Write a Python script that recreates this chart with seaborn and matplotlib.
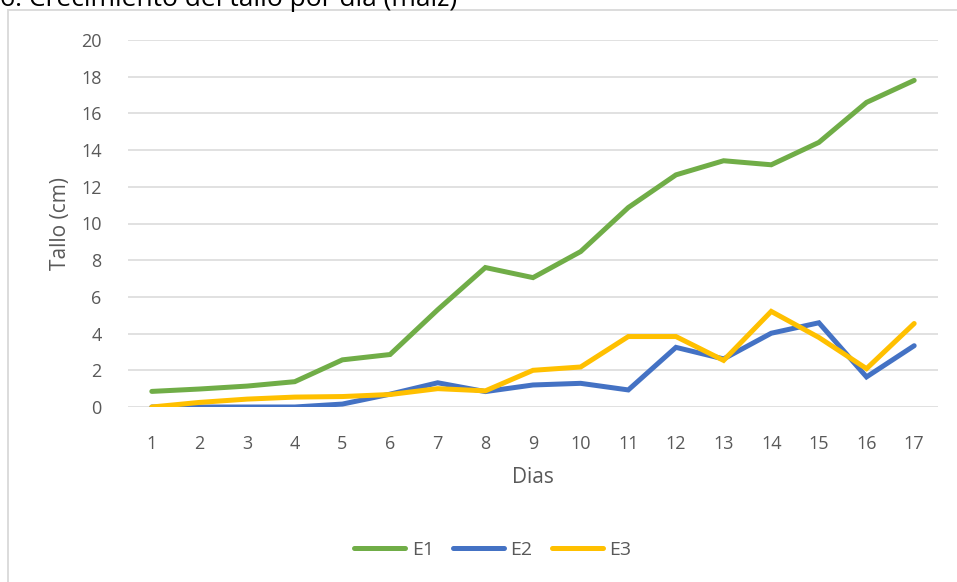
import matplotlib
matplotlib.use("Agg")
import matplotlib.pyplot as plt
from matplotlib.patches import Rectangle
import seaborn as sns
import pandas as pd

# Daily stem height (cm) for three trials
dias = list(range(1, 18))
e1 = [0.85, 0.98, 1.14, 1.38, 2.57, 2.86, 5.3, 7.6, 7.05, 8.47, 10.87, 12.65, 13.42, 13.2, 14.42, 16.6, 17.8]
e2 = [0.0, 0.0, 0.0, 0.0, 0.16, 0.7, 1.32, 0.84, 1.2, 1.29, 0.93, 3.25, 2.62, 4.02, 4.59, 1.64, 3.34]
e3 = [0.0, 0.25, 0.43, 0.54, 0.57, 0.68, 1.0, 0.88, 2.0, 2.18, 3.84, 3.84, 2.54, 5.21, 3.79, 2.09, 4.55]
series_names = ["E1", "E2", "E3"]
colors = ["#70AD47", "#4472C4", "#FFC000"]
y_ticks = list(range(0, 21, 2))
title = "6. Crecimiento del tallo por día (maíz)"

df = pd.DataFrame({
    "Dias": dias * 3,
    "Tallo (cm)": e1 + e2 + e3,
    "Serie": [s for s in series_names for _ in dias],
})

sns.set_theme(style="white")
plt.rcParams["font.family"] = ["Open Sans", "DejaVu Sans"]
text_color = "#595959"
grid_color = "#D9D9D9"

fig = plt.figure(figsize=(9.57, 5.82), dpi=100)
ax = fig.add_axes([128 / 957, 1 - 407 / 582, 810 / 957, 367 / 582])

sns.lineplot(data=df, x="Dias", y="Tallo (cm)", hue="Serie",
             palette=dict(zip(series_names, colors)), linewidth=3.6,
             ax=ax, legend=False, solid_joinstyle="miter")

ax.set_xlim(0.5, 17.5)
ax.set_ylim(0, 20)
ax.set_xticks(dias)
ax.set_xticklabels([str(d) for d in dias])
ax.set_yticks(y_ticks)
ax.set_yticklabels([str(t) for t in y_ticks])
ax.yaxis.grid(True, color=grid_color, linewidth=1.1)
ax.set_axisbelow(True)
for sp in ax.spines.values():
    sp.set_visible(False)
ax.tick_params(axis="both", length=0, labelsize=13, colors=text_color)
ax.tick_params(axis="y", pad=19)
ax.tick_params(axis="x", pad=20)
ax.set_xlabel("Dias", fontsize=15, color=text_color, labelpad=10)
ax.set_ylabel("Tallo (cm)", fontsize=15, color=text_color, labelpad=7)

# Legend below the plot
handles = [plt.Line2D([], [], color=c, linewidth=3.6) for c in colors]
fig.legend(handles, series_names, loc="center", bbox_to_anchor=(493 / 957, 1 - 550 / 582),
           ncol=3, frameon=False, fontsize=14, labelcolor=text_color,
           handlelength=2.6, handletextpad=0.35, columnspacing=1.0)

# Chart frame (top-left corner visible)
fig.patches.append(Rectangle((8 / 957, -0.1), 1.2, 1.1 - 10 / 582,
                             transform=fig.transFigure, fill=False,
                             edgecolor=grid_color, linewidth=1.3))

# Title, mostly above the canvas
fig.text(0.0, 1 - 6 / 582, title, fontsize=19, color="black", ha="left", va="baseline")

fig.savefig("out.png", dpi=100)
